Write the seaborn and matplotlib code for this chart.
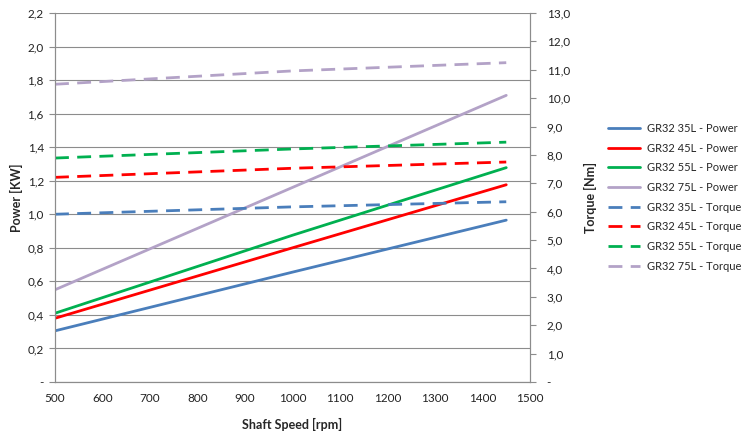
import pandas as pd
import seaborn as sns
import matplotlib.pyplot as plt
from matplotlib.ticker import FuncFormatter, MultipleLocator

# shaft speed points [rpm]
speed = [500, 1000, 1450]

# power [kW]
power_35 = [0.305, 0.655, 0.965]
power_45 = [0.38, 0.80, 1.176]
power_55 = [0.41, 0.875, 1.278]
power_75 = [0.55, 1.16, 1.709]

# torque [Nm]
torque_35 = [5.91, 6.17, 6.35]
torque_45 = [7.21, 7.53, 7.75]
torque_55 = [7.89, 8.21, 8.45]
torque_75 = [10.49, 10.96, 11.25]

models = ["35L", "45L", "55L", "75L"]
colors = ["#4A7EBB", "#FF0000", "#00B050", "#B3A2C7"]

sns.set_style("white")
plt.rcParams["font.family"] = ["Lato", "DejaVu Sans"]

rows = []
for m, p, t in zip(models, [power_35, power_45, power_55, power_75],
                   [torque_35, torque_45, torque_55, torque_75]):
    for s, pv, tv in zip(speed, p, t):
        rows.append({"speed": s, "power": pv, "torque": tv, "model": m})
df = pd.DataFrame(rows)

fig = plt.figure(figsize=(7.52, 4.34), dpi=100)
ax = fig.add_axes([55 / 752, 52 / 434, 475 / 752, 369 / 434])
ax2 = ax.twinx()

palette = dict(zip(models, colors))
sns.lineplot(data=df, x="speed", y="power", hue="model", palette=palette,
             ax=ax, linewidth=2.0, legend=False)
sns.lineplot(data=df, x="speed", y="torque", hue="model", palette=palette,
             ax=ax2, linewidth=2.0, legend=False)
for line in ax2.lines:
    line.set_dashes([5, 3])

ax.set_xlim(500, 1500)
ax.set_ylim(0, 2.2)
ax2.set_ylim(0, 13)
ax.xaxis.set_major_locator(MultipleLocator(100))
ax.yaxis.set_major_locator(MultipleLocator(0.2))
ax2.yaxis.set_major_locator(MultipleLocator(1))

def fmt(d):
    def f(v, pos):
        if abs(v) < 1e-9:
            return "-"
        return f"{v:.{d}f}".replace(".", ",")
    return FuncFormatter(f)

ax.yaxis.set_major_formatter(fmt(1))
ax2.yaxis.set_major_formatter(fmt(1))

ax.grid(axis="y", color="#8C8C8C", linewidth=0.8)
ax.set_axisbelow(True)
for a in (ax, ax2):
    for sp in a.spines.values():
        sp.set_color("#8C8C8C")
    a.spines["top"].set_visible(False)
ax.tick_params(axis="both", direction="out", length=4, color="#8C8C8C",
               labelsize=8.5, pad=4, labelcolor="#222222")
ax2.tick_params(axis="y", direction="out", length=4, color="#8C8C8C",
                labelsize=8.5, pad=8, labelcolor="#222222")

ax.set_xlabel("Shaft Speed [rpm]", fontsize=9, fontweight="bold", labelpad=10)
ax.set_ylabel("Power [KW]", fontsize=9, fontweight="bold", labelpad=3)
ax2.set_ylabel("Torque [Nm]", fontsize=9, fontweight="bold", labelpad=10)

handles = ax.lines + ax2.lines
labels = [f"GR32 {m} - Power" for m in models] + [f"GR32 {m} - Torque" for m in models]
fig.legend(handles, labels, loc="upper left", bbox_to_anchor=(598 / 752, 1 - 113 / 434),
           frameon=False, fontsize=8, handlelength=2.9, labelspacing=0.78,
           handletextpad=0.6)

fig.savefig("out.png", dpi=100)
